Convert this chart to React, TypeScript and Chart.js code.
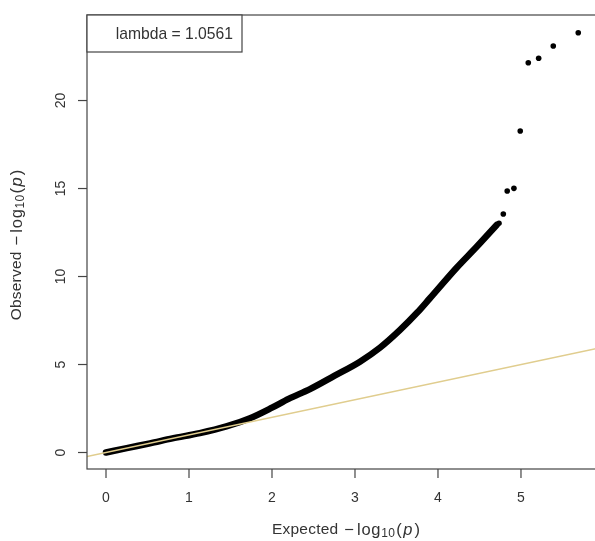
import React, { useEffect, useRef } from "react";
import { Chart, registerables } from "chart.js";

Chart.register(...registerables);

// Dense part of the QQ curve (expected vs observed -log10 p)
const curveExpected = [0, 0.25, 0.53, 0.8, 1.13, 1.45, 1.735, 2.0, 2.2, 2.458, 2.75, 3.06, 3.3, 3.54, 3.75, 3.9, 4.225, 4.466, 4.707];
const curveObserved = [0, 0.25, 0.52, 0.8, 1.1, 1.48, 1.95, 2.55, 3.05, 3.6, 4.35, 5.16, 5.95, 6.95, 7.95, 8.75, 10.5, 11.69, 12.93];

// Isolated top hits
const tailExpected = [4.735, 4.787, 4.834, 4.915, 4.991, 5.088, 5.213, 5.389, 5.69];
const tailObserved = [13.02, 13.55, 14.86, 15.01, 18.27, 22.15, 22.4, 23.1, 23.85];

const xTicks = [0, 1, 2, 3, 4, 5];
const yTicks = [0, 5, 10, 15, 20];
const xRange = [-0.229, 5.928];
const yRange = [-0.9375, 24.86];

const lambdaLabel = "lambda = 1.0561";
const xTitleWord = "Expected";
const yTitleWord = "Observed";

const FONT = "'Liberation Sans', Arial, Helvetica, sans-serif";
const TEXT = "#333";

type Part = { t: string; f: string; dy: number; sp: number; after: number };

function drawTitle(ctx: CanvasRenderingContext2D, word: string, cx: number, cy: number, rotate: boolean) {
  const parts: Part[] = [
    { t: word, f: `15.5px ${FONT}`, dy: 0, sp: 0.2, after: 6 },
    { t: "\u2212", f: `16.5px ${FONT}`, dy: 0, sp: 0, after: 3 },
    { t: "log", f: `16.5px ${FONT}`, dy: 0, sp: 0.8, after: 0 },
    { t: "10", f: `12px ${FONT}`, dy: 4, sp: 0.3, after: 1 },
    { t: "(", f: `16.5px ${FONT}`, dy: 0, sp: 0, after: 1.5 },
    { t: "p", f: `italic 16.5px ${FONT}`, dy: 0, sp: 0, after: 2 },
    { t: ")", f: `16.5px ${FONT}`, dy: 0, sp: 0, after: 0 },
  ];
  let total = 0;
  parts.forEach((p) => {
    ctx.font = p.f;
    for (const ch of p.t) total += ctx.measureText(ch).width + p.sp;
    total += p.after;
  });
  ctx.save();
  ctx.translate(cx, cy);
  if (rotate) ctx.rotate(-Math.PI / 2);
  ctx.fillStyle = TEXT;
  ctx.textBaseline = "middle";
  ctx.textAlign = "left";
  let x = -total / 2;
  parts.forEach((p) => {
    ctx.font = p.f;
    for (const ch of p.t) {
      ctx.fillText(ch, x, p.dy);
      x += ctx.measureText(ch).width + p.sp;
    }
    x += p.after;
  });
  ctx.restore();
}

const rAxesPlugin = {
  id: "rAxes",
  afterDraw(chart: any) {
    const { ctx, chartArea: a, scales } = chart;
    const xs = scales.x;
    const ys = scales.y;
    ctx.save();
    ctx.strokeStyle = "#444";
    ctx.lineWidth = 1.2;
    ctx.strokeRect(a.left, a.top, a.right - a.left, a.bottom - a.top);

    ctx.fillStyle = TEXT;
    ctx.font = `14px ${FONT}`;
    ctx.textAlign = "center";
    ctx.textBaseline = "middle";
    xTicks.forEach((v) => {
      const px = xs.getPixelForValue(v);
      ctx.beginPath();
      ctx.moveTo(px, a.bottom);
      ctx.lineTo(px, a.bottom + 9);
      ctx.stroke();
      ctx.fillText(String(v), px, a.bottom + 29);
    });

    yTicks.forEach((v) => {
      const py = ys.getPixelForValue(v);
      ctx.beginPath();
      ctx.moveTo(a.left, py);
      ctx.lineTo(a.left - 9, py);
      ctx.stroke();
      ctx.save();
      ctx.translate(a.left - 26, py);
      ctx.rotate(-Math.PI / 2);
      ctx.fillText(String(v), 0, 0);
      ctx.restore();
    });

    ctx.fillStyle = "#fff";
    ctx.fillRect(a.left, a.top, 155, 37);
    ctx.strokeRect(a.left, a.top, 155, 37);
    ctx.fillStyle = TEXT;
    ctx.font = `15.7px ${FONT}`;
    ctx.textAlign = "right";
    ctx.fillText(lambdaLabel, a.left + 146, a.top + 20);

    drawTitle(ctx, xTitleWord, 346, 530, false);
    drawTitle(ctx, yTitleWord, 17, (a.top + a.bottom) / 2 + 3, true);
    ctx.restore();
  },
};

export default function App() {
  const ref = useRef<HTMLCanvasElement>(null);
  useEffect(() => {
    if (!ref.current) return;
    const chart = new Chart(ref.current, {
      type: "scatter",
      data: {
        datasets: [
          {
            label: "diagonal",
            data: [
              { x: xRange[0], y: xRange[0] },
              { x: xRange[1], y: xRange[1] },
            ],
            showLine: true,
            borderColor: "#e0cd8e",
            borderWidth: 1.5,
            pointRadius: 0,
          },
          {
            label: "tail",
            data: tailExpected.map((x, i) => ({ x, y: tailObserved[i] })),
            pointRadius: 2.8,
            pointBackgroundColor: "#000",
            pointBorderWidth: 0,
            showLine: false,
          },
          {
            label: "curve",
            data: curveExpected.map((x, i) => ({ x, y: curveObserved[i] })),
            showLine: true,
            borderColor: "#000",
            borderWidth: 6.5,
            borderCapStyle: "round",
            borderJoinStyle: "round",
            cubicInterpolationMode: "monotone",
            pointRadius: 0,
          },
        ],
      },
      options: {
        responsive: false,
        animation: false,
        devicePixelRatio: 1,
        layout: { padding: { left: 87, top: 15, right: 27, bottom: 72 } },
        plugins: { legend: { display: false }, tooltip: { enabled: false } },
        scales: {
          x: { type: "linear", min: xRange[0], max: xRange[1], display: false },
          y: { type: "linear", min: yRange[0], max: yRange[1], display: false },
        },
      },
      plugins: [rAxesPlugin],
    } as any);
    return () => chart.destroy();
  }, []);
  return (
    <div style={{ position: "absolute", left: 0, top: 0, width: 595, height: 541, overflow: "hidden", background: "#fff" }}>
      <canvas ref={ref} width={625} height={541} style={{ display: "block" }} />
    </div>
  );
}
